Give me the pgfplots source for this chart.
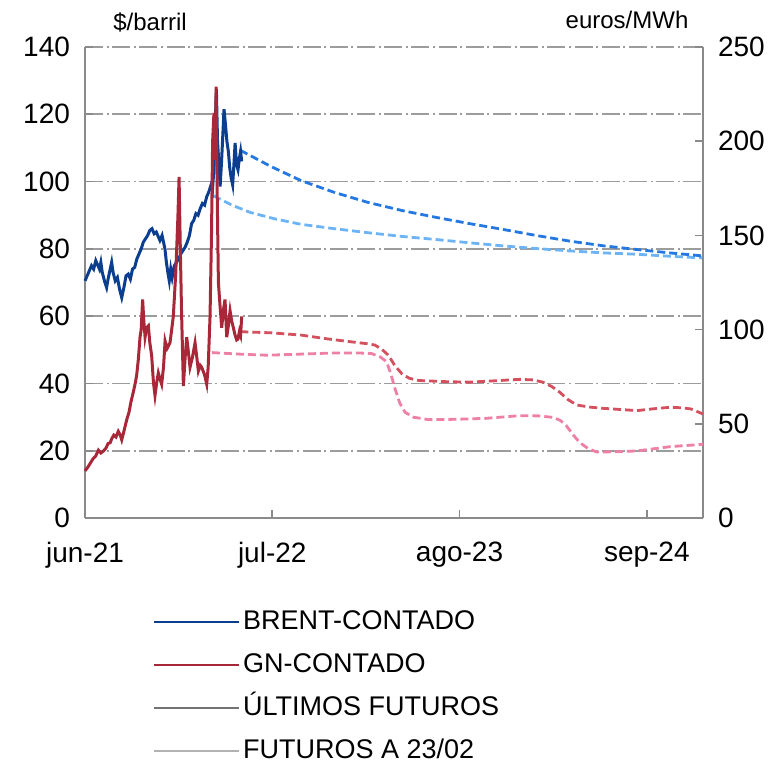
\documentclass[border=0pt]{standalone}
\usepackage{fontspec}
\setmainfont{Liberation Sans}
\usepackage{pgfplots}
\pgfplotsset{compat=1.18}
\definecolor{brentc}{HTML}{0B3E8E}
\definecolor{gnc}{HTML}{A8283A}
\definecolor{brentf}{HTML}{2478E0}
\definecolor{brentf2}{HTML}{6CB4F6}
\definecolor{gnf}{HTML}{D4505E}
\definecolor{gnf2}{HTML}{EE7FA6}
\definecolor{axc}{HTML}{8A8A8A}
\definecolor{gridc}{HTML}{9C9C9C}
\begin{document}
\begin{tikzpicture}
\pgfplotsset{
  common/.style={
    scale only axis, width=309pt, height=235.5pt,
    at={(0pt,0pt)}, anchor=south west,
    xmin=0, xmax=42.9,
    tick align=inside, major tick length=4pt,
    tick style={axc, line width=0.8pt},
    axis line style={axc, line width=0.9pt},
    ticklabel style={font=\fontsize{14}{16}\selectfont},
    /pgf/number format/assume math mode=true,
    clip=false,
  },
}
\begin{axis}[common,
  ymin=0, ymax=140,
  axis x line*=bottom, axis y line*=left,
  xtick={0,13,26,39}, xticklabels={jun-21,jul-22,ago-23,sep-24},
  xticklabel style={yshift=-8.5pt},
  ytick={0,20,...,140},
  yticklabel style={xshift=-4pt},
  ymajorgrids,
  major grid style={gridc, line width=0.9pt, dash pattern=on 9pt off 1.8pt on 1pt off 1.8pt},
  legend style={at={(axis description cs:0.10,-0.178)}, anchor=north west, draw=none, fill=none,
     font=\fontsize{13.5}{15}\selectfont, row sep=5.5pt,
     nodes={inner sep=1.5pt, text height=10pt, text depth=3pt}},
  legend cell align=left,
  legend image code/.code={\path (0pt,0pt) -- (42.5pt,0pt);\draw[#1] (0pt,0pt) -- (37.5pt,0pt);},
]
\addlegendimage{brentc, line width=1pt}
\addlegendentry{BRENT-CONTADO}
\addlegendimage{gnc, line width=1pt}
\addlegendentry{GN-CONTADO}
\addlegendimage{black!55, line width=1pt}
\addlegendentry{ÚLTIMOS FUTUROS}
\addlegendimage{black!30, line width=1pt}
\addlegendentry{FUTUROS A 23/02}
% Brent futures as of 23/02
\addplot[brentf2, line width=1.4pt, dash pattern=on 4pt off 2pt, forget plot] coordinates {
(8.92,95.8) (10.2,93.0) (11.49,90.8) (13.2,88.9) (14.99,87.3) (17.3,86.0) (19.65,84.8)
(22.0,83.7) (24.32,82.8) (26.7,81.8) (28.99,80.9) (31.3,80.1) (33.65,79.4) (36.0,78.8)
(38.32,78.4) (40.6,77.8) (42.9,77.3)};
% Brent latest futures
\addplot[brentf, line width=1.4pt, dash pattern=on 4pt off 2pt, forget plot] coordinates {
(10.78,109.3) (12.9,104.5) (14.99,100.3) (17.3,96.8) (19.65,93.8) (22.0,91.4) (24.32,89.4)
(26.7,87.5) (28.99,85.8) (31.3,84.0) (33.65,82.3) (36.0,80.9) (38.32,79.8) (40.6,78.8) (42.9,77.9)};
% Brent spot
\addplot[brentc, line width=1.5pt, forget plot] coordinates {
(0,70.5) (0.15,72) (0.3,73.5) (0.45,75) (0.6,74) (0.75,76.5) (0.85,75.5) (1.0,74) (1.1,76)
(1.2,73) (1.35,70.5) (1.5,68.5) (1.6,71) (1.75,74) (1.85,76) (1.95,73) (2.1,70.5) (2.25,71.5)
(2.4,68) (2.55,65.5) (2.7,68.5) (2.85,72) (3.0,72.5) (3.15,71) (3.3,74) (3.45,74.5) (3.6,77)
(3.75,78.5) (3.9,80) (4.05,82) (4.2,83) (4.35,84) (4.5,85.5) (4.65,86) (4.8,84.5) (4.95,85)
(5.1,83.5) (5.2,82.5) (5.35,84) (5.45,82) (5.55,80) (5.65,76) (5.75,73) (5.85,70.5) (5.95,74)
(6.05,71.5) (6.2,75) (6.35,76) (6.5,77) (6.65,78.5) (6.8,79.5) (6.95,80.5) (7.1,82) (7.25,84)
(7.4,87.5) (7.55,88.5) (7.7,90.5) (7.85,90) (8.0,92) (8.15,93.5) (8.3,93) (8.45,95.5) (8.6,97)
(8.75,99) (8.85,97.5) (8.95,104) (9.05,118) (9.12,127.5) (9.2,112) (9.3,105) (9.38,98.5)
(9.48,106) (9.58,115) (9.65,121.5) (9.75,117) (9.85,112) (9.95,109) (10.05,104) (10.15,101)
(10.25,99) (10.35,106) (10.42,111.5) (10.52,105) (10.62,103.5) (10.72,107) (10.8,109) (10.88,106)};
\end{axis}
\begin{axis}[common,
  ymin=0, ymax=250,
  axis y line*=right, axis x line=none,
  ytick={0,50,...,250},
  yticklabel style={xshift=4pt},
]
% GN futures as of 23/02
\addplot[gnf2, line width=1.4pt, dash pattern=on 4pt off 2pt] coordinates {
(8.81,87.8) (10.7,87.0) (12.65,86.4) (15.0,87.0) (17.32,87.6) (19.0,87.6) (19.89,87.3)
(20.5,85.5) (20.94,82.9) (21.25,76) (21.52,68.6) (21.85,61) (22.22,56.1) (22.8,53.5) (23.85,52.2)
(25.8,52.4) (27.82,52.9) (30.15,54.3) (31.5,54.2) (32.49,53.4) (33.0,51.8) (33.42,48.9)
(33.9,44) (34.35,40) (34.9,37) (35.52,35) (37.0,35.2) (38.32,35.6) (40.65,37.9) (42.9,39.1)};
% GN latest futures
\addplot[gnf, line width=1.4pt, dash pattern=on 4pt off 2pt] coordinates {
(10.78,98.9) (12.9,98.3) (14.99,97.1) (16.8,95.1) (18.49,93.5) (19.5,92.6) (20.12,91.8)
(20.6,89.6) (21.06,86.4) (21.5,81) (21.99,76.6) (22.5,74.2) (23.15,73.0) (24.9,72.4) (26.65,72.1)
(28.4,72.8) (30.15,73.6) (31.1,73.3) (31.78,72.1) (32.4,69.8) (32.95,66.8) (33.5,63)
(34.12,60) (35.0,58.9) (35.99,58.2) (38.32,57) (39.5,58.0) (40.65,58.8) (41.4,58.5) (42.06,57.9) (42.9,55.2)};
% GN spot
\addplot[gnc, line width=1.5pt] coordinates {
(0,25) (0.2,27) (0.4,29.5) (0.58,31.7) (0.75,33) (0.93,36) (1.1,34.5) (1.27,35.5) (1.45,37)
(1.6,39.5) (1.75,40) (1.85,42) (2.0,44) (2.15,43) (2.31,46) (2.45,44) (2.55,41.5) (2.7,46)
(2.89,52) (3.05,56) (3.2,62) (3.36,67) (3.5,72) (3.59,76) (3.7,84) (3.82,96) (3.9,100) (4.0,116)
(4.08,105) (4.17,96) (4.28,101) (4.4,102) (4.5,93) (4.63,86) (4.75,72) (4.86,65) (4.98,72)
(5.09,77) (5.2,74) (5.32,71) (5.45,80) (5.56,94) (5.7,90) (5.9,93) (6.0,99) (6.13,107)
(6.3,130) (6.45,160) (6.53,181) (6.6,150) (6.7,110) (6.83,70) (6.95,85) (7.06,96) (7.18,88)
(7.29,80) (7.45,85) (7.64,93) (7.75,86) (7.87,78) (8.0,81) (8.1,80) (8.3,76) (8.45,71) (8.55,80)
(8.68,107) (8.78,150) (8.86,200) (8.95,215) (9.05,190) (9.1,229) (9.18,170) (9.26,125)
(9.38,112) (9.49,101) (9.6,110) (9.72,116) (9.84,96) (9.95,102) (10.07,110) (10.2,104)
(10.3,101) (10.42,97) (10.53,94.5) (10.62,95) (10.72,99) (10.8,97) (10.88,107)};
\end{axis}
\node[font=\fontsize{12}{14}\selectfont] at (32.5pt,248pt) {\$/barril};
\node[font=\fontsize{12}{14}\selectfont] at (271pt,249pt) {euros/MWh};
\pgfresetboundingbox
\path[use as bounding box] (-42.5pt,-122pt) rectangle (348pt,259pt);
\end{tikzpicture}
\end{document}
